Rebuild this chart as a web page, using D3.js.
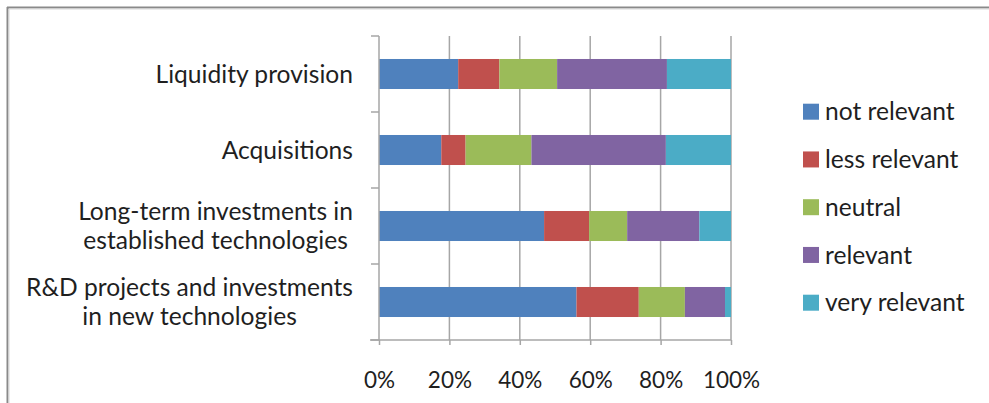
<!DOCTYPE html>
<html>
<head>
<meta charset="utf-8">
<script src="https://cdn.jsdelivr.net/npm/d3@7"></script>
<style>
  html, body { margin: 0; padding: 0; background: #fff; }
  svg { display: block; }
  text { font-family: Lato, "Liberation Sans", sans-serif; fill: #1f1f1f; }
</style>
</head>
<body>
<svg id="chart" width="989" height="403"></svg>
<script>
const categories = [
  ["Liquidity provision"],
  ["Acquisitions"],
  ["Long-term investments in", "established technologies"],
  ["R&D projects and investments", "in new technologies"]
];
const seriesNames = ["not relevant", "less relevant", "neutral", "relevant", "very relevant"];
const seriesColors = ["#4F81BD", "#C0504D", "#9BBB59", "#8064A2", "#4BACC6"];
// shares (%) per category, in series order
const notRelevant  = [22.5, 17.7, 46.9, 56.1];
const lessRelevant = [11.7,  6.9, 12.8, 17.7];
const neutral      = [16.4, 18.7, 10.8, 13.1];
const relevant     = [31.2, 38.2, 20.5, 11.4];
const veryRelevant = [18.2, 18.5,  9.0,  1.7];
const tickValues = [0, 20, 40, 60, 80, 100];

const seriesValues = [notRelevant, lessRelevant, neutral, relevant, veryRelevant];
const keys = categories.map(c => c.join(" "));
const table = keys.map((k, i) => {
  const row = { cat: k };
  seriesNames.forEach((s, j) => row[s] = seriesValues[j][i]);
  return row;
});

const svg = d3.select("#chart");
const FS = 24.6;   // category + legend text
const TFS = 22.5;  // tick labels

// frame
svg.append("line").attr("x1", 7).attr("y1", 7.5).attr("x2", 989).attr("y2", 7.5)
  .attr("stroke", "#8a8a8a").attr("stroke-width", 2);
svg.append("line").attr("x1", 7.5).attr("y1", 7).attr("x2", 7.5).attr("y2", 403)
  .attr("stroke", "#8a8a8a").attr("stroke-width", 2);
svg.append("line").attr("x1", 9).attr("y1", 9).attr("x2", 989).attr("y2", 9)
  .attr("stroke", "#d8d8d8").attr("stroke-width", 1);
svg.append("line").attr("x1", 9).attr("y1", 9).attr("x2", 9).attr("y2", 403)
  .attr("stroke", "#d8d8d8").attr("stroke-width", 1);

const x = d3.scaleLinear().domain([0, 100]).range([379, 731]);
const y = d3.scaleBand().domain(keys).range([36, 340]).paddingInner(0.605).paddingOuter(0.3025);

const gridColor = "#a6a6a6";
// gridlines
svg.append("g").selectAll("line").data(tickValues.slice(1)).join("line")
  .attr("x1", d => x(d)).attr("x2", d => x(d))
  .attr("y1", 36).attr("y2", 340)
  .attr("stroke", gridColor).attr("stroke-width", 1.5);

// bars
const stack = d3.stack().keys(seriesNames)(table);
svg.append("g").selectAll("g").data(stack).join("g")
  .attr("fill", (d, i) => seriesColors[i])
  .selectAll("rect").data(d => d).join("rect")
  .attr("x", d => x(d[0]))
  .attr("width", d => x(d[1]) - x(d[0]))
  .attr("y", d => y(d.data.cat))
  .attr("height", y.bandwidth());

// y axis
const yAxisG = svg.append("g").attr("transform", "translate(379,0)");
yAxisG.append("line").attr("x1", 0).attr("x2", 0).attr("y1", 36).attr("y2", 340)
  .attr("stroke", gridColor).attr("stroke-width", 1.5);
const yTicks = d3.range(keys.length + 1).map(i => 36 + i * y.step());
yAxisG.selectAll(".yt").data(yTicks).join("line").attr("class", "yt")
  .attr("x1", -8).attr("x2", 0).attr("y1", d => d).attr("y2", d => d)
  .attr("stroke", gridColor).attr("stroke-width", 1.5);

// x axis
const xAxis = d3.axisBottom(x).tickValues(tickValues).tickSize(5).tickFormat(d => d + "%");
const xg = svg.append("g").attr("transform", "translate(0,340)").call(xAxis);
xg.select(".domain").attr("stroke", gridColor).attr("stroke-width", 1.5).attr("d", "M370,0H" + x(100));
xg.selectAll(".tick line").attr("stroke", gridColor).attr("stroke-width", 1.5);
xg.selectAll(".tick text").attr("y", 40).attr("dy", "0.35em")
  .style("font-size", TFS + "px").style("fill", "#1f1f1f").style("font-family", "Lato, 'Liberation Sans', sans-serif");

// category labels
const lineH = 28.5;
categories.forEach((lines, i) => {
  const cy = y(keys[i]) + y.bandwidth() / 2;
  const t = svg.append("text").style("font-size", FS + "px").attr("text-anchor", "middle");
  lines.forEach((ln, k) => {
    t.append("tspan").attr("x", 0)
      .attr("y", cy + (k - (lines.length - 1) / 2) * lineH)
      .attr("dy", "0.35em").text(ln);
  });
  let w = 0;
  t.selectAll("tspan").each(function() { w = Math.max(w, this.getComputedTextLength()); });
  t.selectAll("tspan").attr("x", 353 - w / 2);
});

// legend
const leg = svg.append("g");
seriesNames.forEach((s, i) => {
  const cy = 111.7 + i * 47.75;
  leg.append("rect").attr("x", 803).attr("y", cy - 8).attr("width", 16).attr("height", 16)
    .attr("fill", seriesColors[i]);
  leg.append("text").attr("x", 825).attr("y", cy).attr("dy", "0.35em")
    .style("font-size", FS + "px").text(s);
});
</script>
</body>
</html>
